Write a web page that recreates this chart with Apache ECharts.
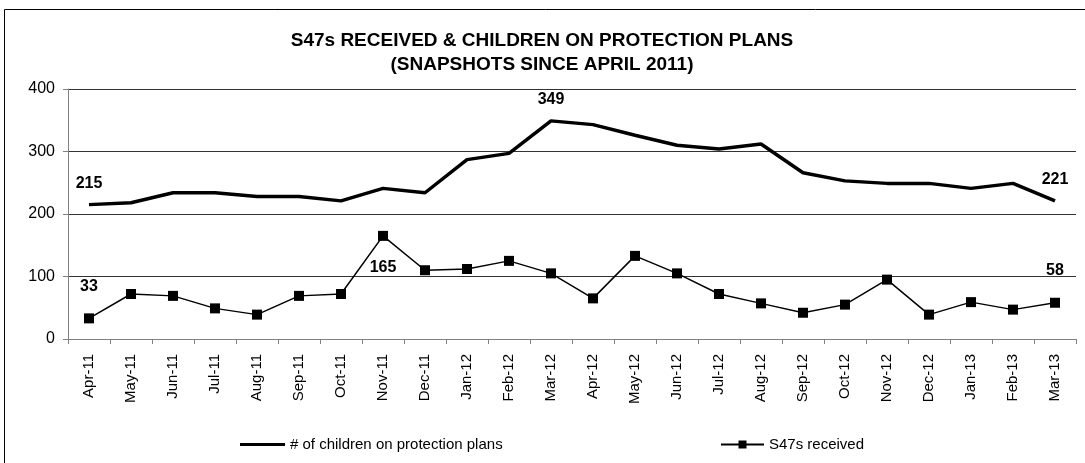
<!DOCTYPE html>
<html>
<head>
<meta charset="utf-8">
<script src="https://cdn.jsdelivr.net/npm/echarts@6/dist/echarts.min.js"></script>
<style>
html,body{margin:0;padding:0;background:#fff;}
#c{width:1085px;height:463px;}
</style>
</head>
<body>
<div id="c"></div>
<script>
var categories = ['Apr-11','May-11','Jun-11','Jul-11','Aug-11','Sep-11','Oct-11','Nov-11','Dec-11','Jan-12','Feb-12','Mar-12','Apr-12','May-12','Jun-12','Jul-12','Aug-12','Sep-12','Oct-12','Nov-12','Dec-12','Jan-13','Feb-13','Mar-13'];
var childrenOnPlans = [215,218,234,234,228,228,221,241,234,287,297,349,343,326,310,304,312,266,253,249,249,241,249,221];
var s47Received = [33,72,69,49,39,69,72,165,110,112,125,105,65,133,105,72,57,42,55,95,39,59,47,58];
var yTicks = [0,100,200,300,400];
var childrenLabelIdx = [0,11,23];
var s47LabelIdx = [0,7,23];
</script>
<script>
var FONT = '"Liberation Sans", Arial, sans-serif';
function withLabels(arr, idxs, pos, dist){
  return arr.map(function(v,i){
    if (idxs.indexOf(i) >= 0) {
      return {value:v, label:{show:true, position:pos(i), distance:dist(i)}};
    }
    return v;
  });
}
var chart = echarts.init(document.getElementById('c'), null, {renderer:'canvas'});
chart.setOption({
  animation:false,
  backgroundColor:'#fff',
  title:{
    text:'S47s RECEIVED & CHILDREN ON PROTECTION PLANS\n(SNAPSHOTS SINCE APRIL 2011)',
    left:542, top:29, textAlign:'center', padding:0,
    textStyle:{fontFamily:FONT, fontSize:19, fontWeight:'bold', color:'#000', lineHeight:24}
  },
  graphic:[{type:'rect', shape:{x:4.5,y:9.5,width:1100,height:480}, style:{fill:null, stroke:'#000', lineWidth:1}, silent:true}],
  legend:[{
    data:['# of children on protection plans'], left:240, top:437, padding:0, itemWidth:45, itemHeight:14,
    textStyle:{fontFamily:FONT, fontSize:15, color:'#000'}, icon:'path://M0,5.5L45,5.5L45,8.5L0,8.5Z'
  },{
    data:['S47s received'], left:720, top:437, padding:0, itemWidth:43, itemHeight:10,
    textStyle:{fontFamily:FONT, fontSize:15, color:'#000'}
  }],
  grid:{left:68, right:9, top:89, bottom:124, containLabel:false},
  xAxis:{
    type:'category', data:categories, boundaryGap:true,
    axisLine:{lineStyle:{color:'#808080', width:1}},
    axisTick:{show:true, length:5, lineStyle:{color:'#808080'}},
    axisLabel:{rotate:90, fontFamily:FONT, fontSize:15, color:'#000', margin:15, interval:0}
  },
  yAxis:{
    type:'value', min:0, max:400, interval:100,
    axisLine:{show:true, lineStyle:{color:'#808080', width:1}},
    axisTick:{show:true, length:5, lineStyle:{color:'#808080'}},
    axisLabel:{fontFamily:FONT, fontSize:16, color:'#000', margin:13},
    splitLine:{show:true, lineStyle:{color:'#333', width:1}}
  },
  series:[{
    name:'# of children on protection plans', type:'line',
    data: withLabels(childrenOnPlans, childrenLabelIdx, function(){return 'top';}, function(){return 13;}),
    symbol:'circle', symbolSize:0.1, showSymbol:true,
    lineStyle:{color:'#000', width:3.5}, itemStyle:{color:'#000'},
    label:{show:false, fontFamily:FONT, fontSize:16, fontWeight:'bold', color:'#000'}
  },{
    name:'S47s received', type:'line',
    data: withLabels(s47Received, s47LabelIdx, function(i){return i===7?'bottom':'top';}, function(i){return 19;}),
    symbol:'rect', symbolSize:10,
    lineStyle:{color:'#000', width:1.5}, itemStyle:{color:'#000'},
    label:{show:false, fontFamily:FONT, fontSize:16, fontWeight:'bold', color:'#000'}
  }]
});
</script>
</body>
</html>
